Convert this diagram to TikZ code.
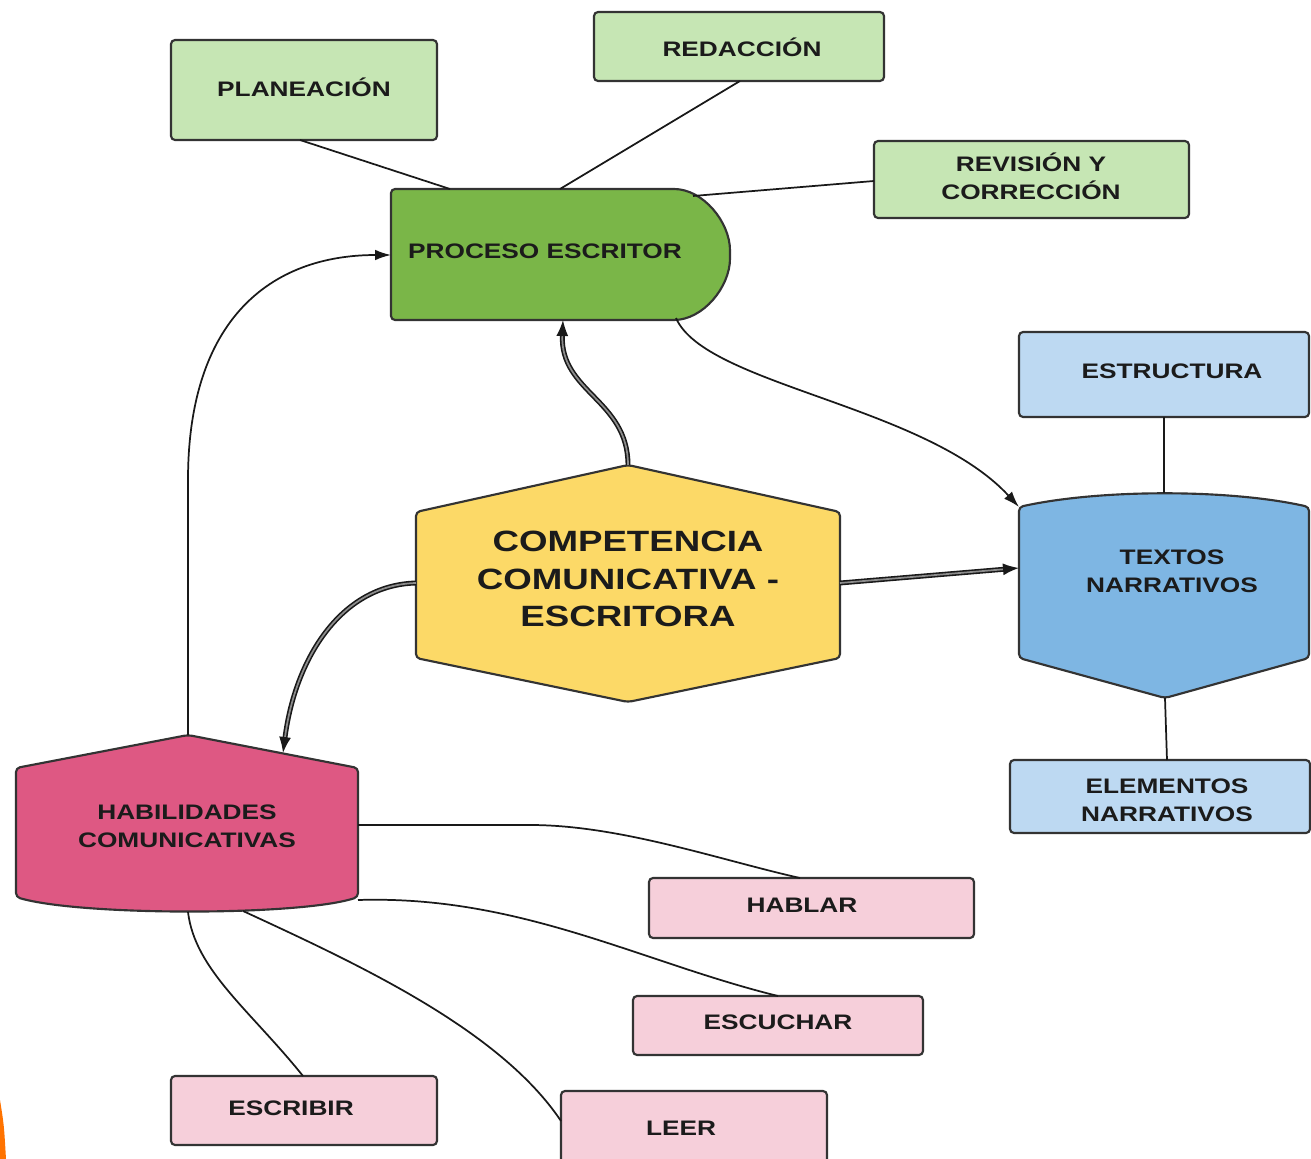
\documentclass[tikz,border=0pt]{standalone}
\usepackage{fontspec}
\setmainfont[FakeStretch=1.25]{Liberation Sans}
\usetikzlibrary{arrows.meta}
\definecolor{lgreen}{HTML}{C6E6B4}
\definecolor{dgreen}{HTML}{7AB648}
\definecolor{lblue}{HTML}{BDD9F2}
\definecolor{dblue}{HTML}{7EB6E3}
\definecolor{yel}{HTML}{FCD967}
\definecolor{dpink}{HTML}{DE5883}
\definecolor{lpink}{HTML}{F6CFDA}
\definecolor{txt}{HTML}{1B1B1B}
\definecolor{edge}{HTML}{333333}
\tikzset{
  lbl/.style={text=txt, font=\bfseries\fontsize{15.75pt}{21pt}\selectfont, align=center, inner sep=0pt},
  biglbl/.style={text=txt, font=\bfseries\fontsize{22pt}{28pt}\selectfont, align=center, inner sep=0pt},
  boxbase/.style={draw=edge, line width=1.6pt, rounded corners=3pt},
  gbox/.style={boxbase, fill=lgreen},
  bbox/.style={boxbase, fill=lblue},
  pbox/.style={boxbase, fill=lpink},
  conn/.style={draw=black!90, line width=1.3pt},
  arr/.style={conn, -{Latex[length=12pt,width=8pt]}},
  dbl/.style={draw=black!90, line width=1.2pt, double=black!45, double distance=1.3pt, -{Latex[length=12pt,width=9pt]}},
}
\begin{document}
\begin{tikzpicture}[x=0.75pt,y=-0.75pt]
\useasboundingbox (0,0) rectangle (1311,1159);
\clip (0,0) rectangle (1311,1159);
\fill[white] (0,0) rectangle (1311,1159);
\fill[orange!90!red] (0,1100) .. controls (4,1125) .. (6,1159) -- (0,1159) -- cycle;

% ---------- shapes ----------
% Proceso escritor
\draw[boxbase, fill=dgreen]
  (391,189) -- (670,189) .. controls (703,189) and (730,222) .. (730,254.5)
  .. controls (730,287) and (703,320) .. (670,320) -- (391,320) -- cycle;
% Hexagon
\draw[boxbase, fill=yel] (628,465) -- (840,512) -- (840,658) -- (628,702) -- (416,658) -- (416,512) -- cycle;
% Textos narrativos
\draw[boxbase, fill=dblue] (1019,507) .. controls (1100,489) and (1230,489) .. (1309,507)
  -- (1309,658) -- (1165,698) -- (1019,658) -- cycle;
% Habilidades
\draw[boxbase, fill=dpink] (16,768) -- (188,735) -- (358,768) -- (358,897)
  .. controls (300,916) and (80,916) .. (16,897) -- cycle;

% ---------- nodes ----------
\node[gbox, minimum width=199.5pt, minimum height=75pt] (plan) at (304,90) {};
\node[lbl] (planT) at (304,87) {PLANEACIÓN};
\node[gbox, minimum width=217.5pt, minimum height=51.75pt] (red) at (739,46.5) {};
\node[lbl] (redT) at (742,47) {REDACCIÓN};
\node[gbox, minimum width=236.25pt, minimum height=57.75pt] (rev) at (1031.5,179.5) {};
\node[lbl] (revT) at (1031,176) {REVISIÓN Y\\CORRECCIÓN};
\node[lbl] (proc) at (545,251) {PROCESO ESCRITOR};
\node[bbox, minimum width=217.5pt, minimum height=63.75pt] (est) at (1164,374.5) {};
\node[lbl] (estT) at (1172,371) {ESTRUCTURA};
\node[lbl] (tex) at (1172,571) {TEXTOS\\NARRATIVOS};
\node[bbox, minimum width=225pt, minimum height=54.75pt] (elem) at (1160,796.5) {};
\node[lbl] (elemT) at (1167,800) {ELEMENTOS\\NARRATIVOS};
\node[biglbl] (comp) at (628,579) {COMPETENCIA\\COMUNICATIVA -\\ESCRITORA};
\node[lbl] (hab) at (187,826) {HABILIDADES\\COMUNICATIVAS};
\node[pbox, minimum width=243.75pt, minimum height=45pt] (hablar) at (811.5,908) {};
\node[lbl] (hablarT) at (802,905) {HABLAR};
\node[pbox, minimum width=217.5pt, minimum height=44.25pt] (esc) at (778,1025.5) {};
\node[lbl] (escT) at (778,1022) {ESCUCHAR};
\node[pbox, minimum width=199.5pt, minimum height=51.75pt] (escr) at (304,1110.5) {};
\node[lbl] (escrT) at (291,1108) {ESCRIBIR};
\node[pbox, minimum width=199.5pt, minimum height=57pt] (leer) at (694,1129) {};
\node[lbl] (leerT) at (681,1128) {LEER};

% ---------- anchor coordinates ----------
\coordinate (pT1) at (450,189);
\coordinate (pT2) at (560,189);
\coordinate (pTR) at (693,196);
\coordinate (pB) at (563,320);
\coordinate (pBR) at (676,318);
\coordinate (pL) at (391,255);
\coordinate (hexT) at (628,465);
\coordinate (hexL) at (416,583);
\coordinate (hexR) at (840,583);
\coordinate (tTL) at (1019,507);
\coordinate (tL) at (1019,568);
\coordinate (tT) at (1164,493);
\coordinate (tB) at (1165,698);
\coordinate (hT) at (188,735);
\coordinate (hTR) at (283,753);
\coordinate (hR1) at (358,825);
\coordinate (hR2) at (358,900);
\coordinate (hB1) at (188,912);
\coordinate (hB2) at (243,911);

% ---------- connectors ----------
\draw[conn] (300,140) -- (pT1);
\draw[conn] (740,81) -- (pT2);
\draw[conn] (874,181) -- (pTR);
\draw[dbl] (hexT) .. controls (628,400) and (560,392) .. (pB);
\draw[arr] (pBR) .. controls (705,385) and (925,405) .. (tTL);
\draw[dbl] (hexR) -- (tL);
\draw[dbl] (hexL) .. controls (340,585) and (295,660) .. (hTR);
\draw[arr] (hT) -- (188,480) .. controls (188,320) and (270,255) .. (pL);
\draw[conn] (1164,417) -- (tT);
\draw[conn] (tB) -- (1167,760);
\draw[conn] (hR1) -- (530,825) .. controls (620,825) and (720,860) .. (800,878);
\draw[conn] (hR2) .. controls (520,895) and (640,962) .. (778,996);
\draw[conn] (hB1) .. controls (195,970) and (250,1010) .. (303,1076);
\draw[conn] (hB2) .. controls (360,965) and (500,1030) .. (561,1121);
\end{tikzpicture}
\end{document}
